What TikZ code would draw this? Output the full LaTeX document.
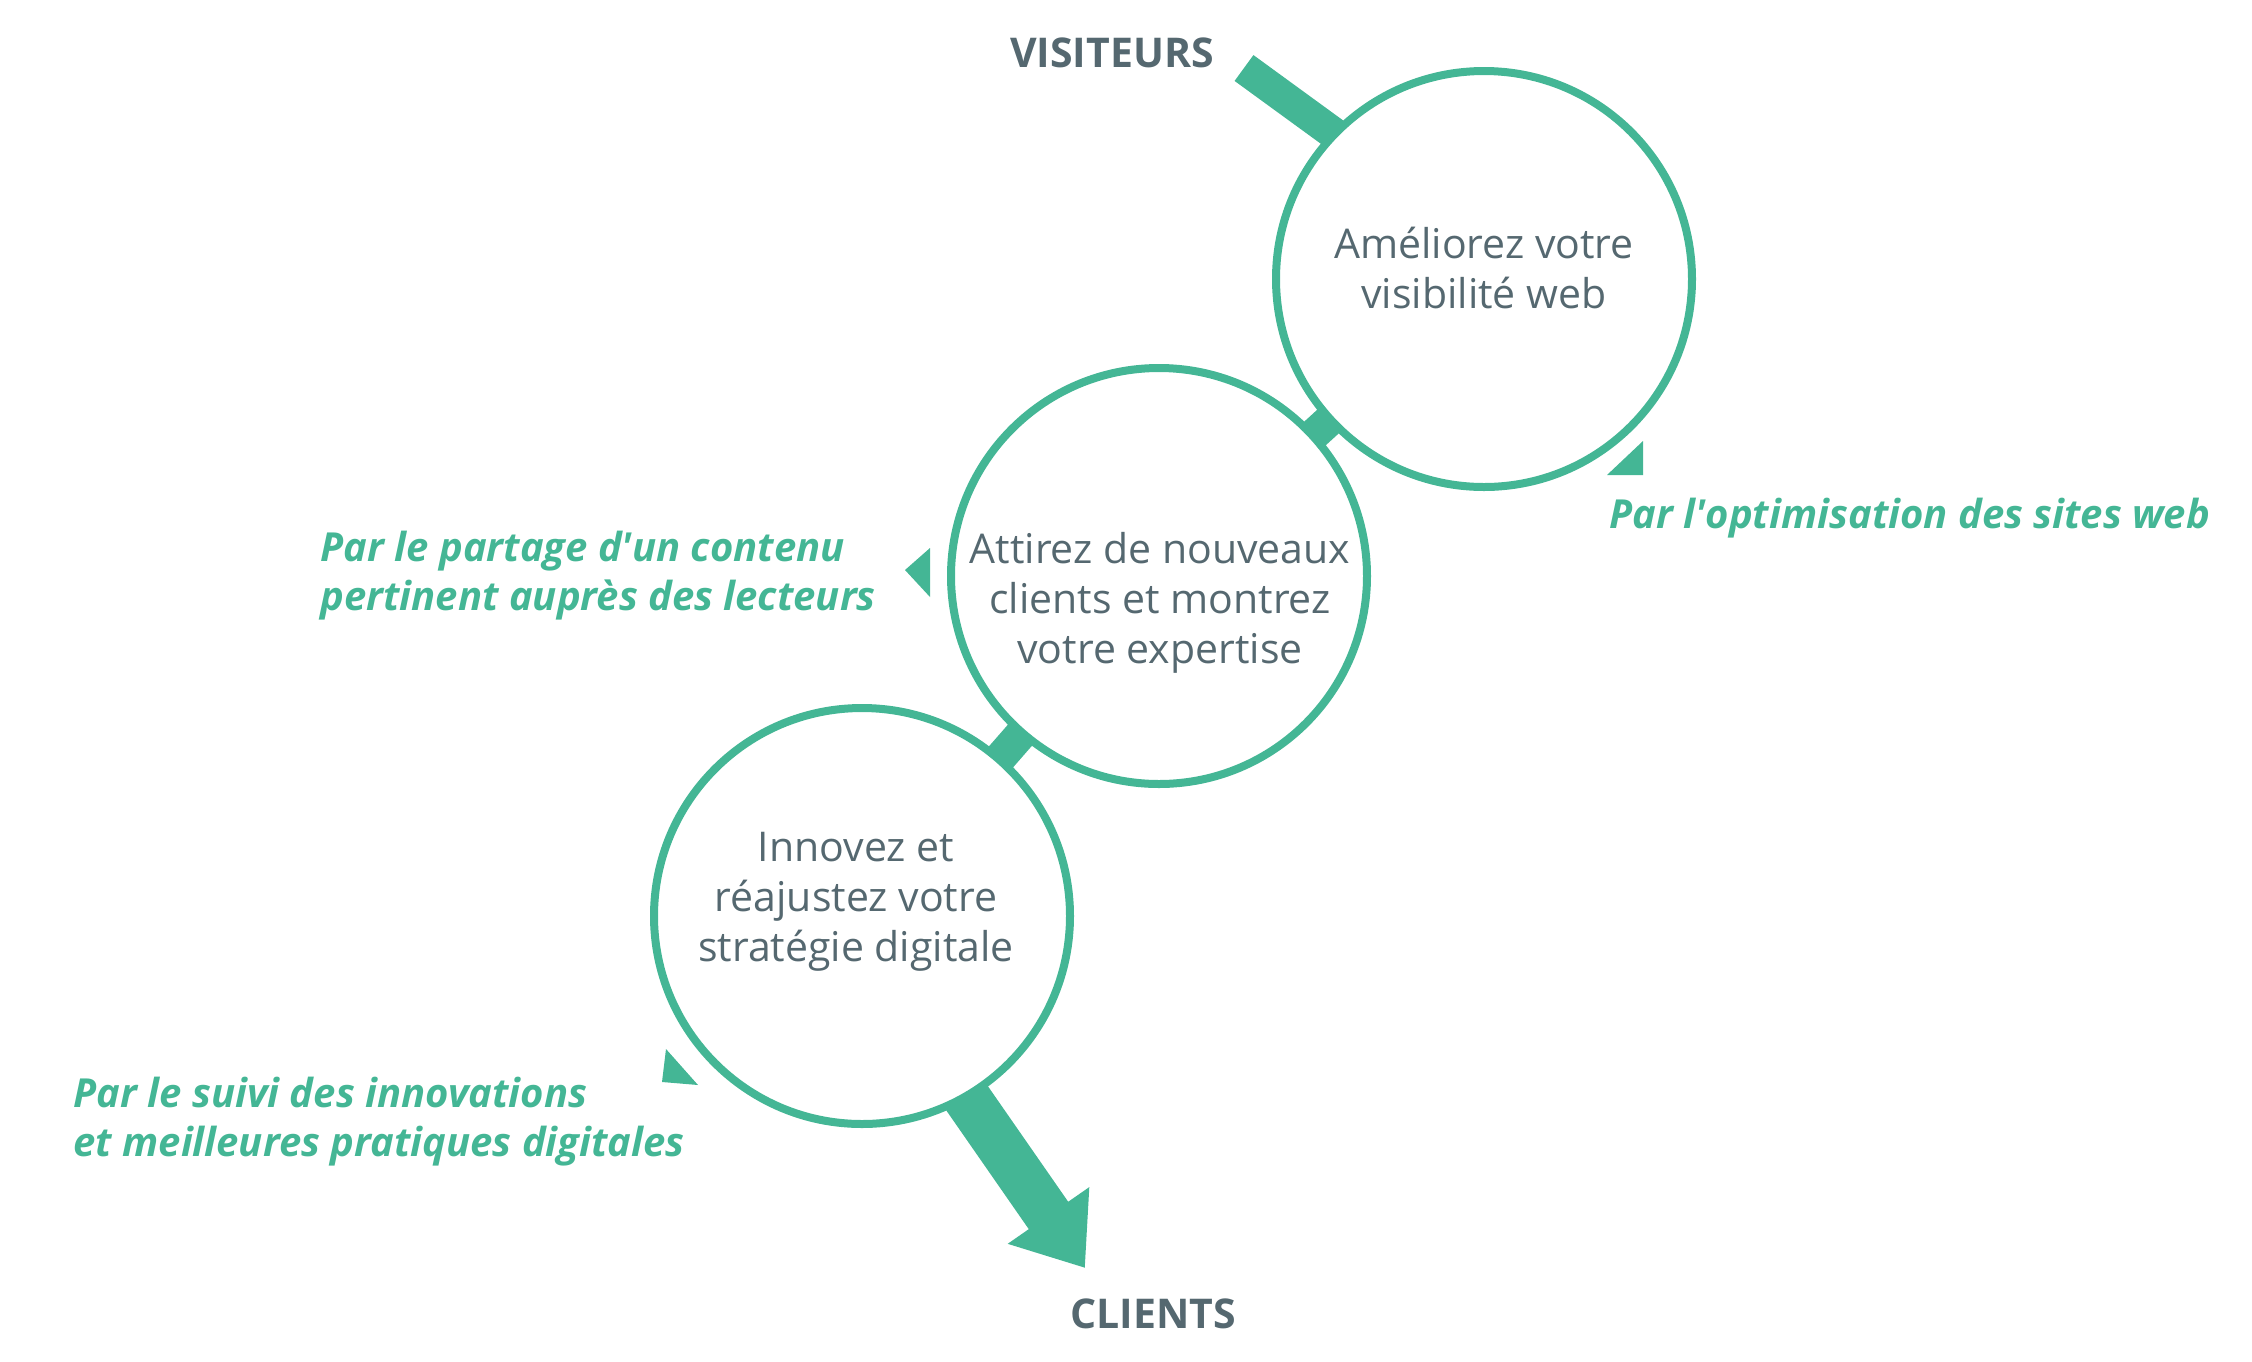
\documentclass[tikz,border=0pt]{standalone}
\usepackage{fontspec}
\setmainfont{Open Sans}
\usepackage{tikz}
\usetikzlibrary{arrows.meta}
\usetikzlibrary{positioning}
\definecolor{vert}{RGB}{68,182,149}
\definecolor{ardoise}{RGB}{85,104,112}

\begin{document}
\begin{tikzpicture}[x=1pt,y=-1pt,
  etape/.style={circle,draw=vert,line width=8pt,minimum size=416pt,inner sep=0pt},
  texte/.style={text=ardoise,align=center,font=\fontsize{41}{50}\selectfont},
  titre/.style={text=ardoise,font=\fontsize{41}{48}\selectfont\bfseries},
  moyen/.style={text=vert,align=left,anchor=west,font=\fontsize{40}{49}\selectfont\bfseries\itshape},
  lien/.style={draw=vert,line width=32pt,shorten <=-4pt,shorten >=-4pt}]
\useasboundingbox (0,0) rectangle (2252,1361);
\node[etape] (c1) at (1484,279) {};
\node[etape] (c2) at (1159,576) {};
\node[etape] (c3) at (862,916) {};
\coordinate (entree) at (1244,68);
\coordinate (sortie) at (1085,1268);
\draw[lien,shorten <=0pt] (entree) -- (c1.136);
\draw[lien] (c1) -- (c2);
\draw[lien] (c2) -- (c3);
\draw[lien,line width=48pt,shorten >=0pt,-{Triangle[length=64pt,width=95pt]}] (c3.-60.5) -- (sortie);
\node[texte] (t1) at (1484,268) {Améliorez votre\\visibilité web};
\node[texte] (t2) at (1160,603) {Attirez de nouveaux\\clients et montrez\\votre expertise};
\node[texte] (t3) at (856,902) {Innovez et\\réajustez votre\\stratégie digitale};
\node[titre] (vis) at (1112,53) {VISITEURS};
\node[titre] (cli) at (1153,1314) {CLIENTS};
\node[moyen] (m1) at (1606,518) {Par l\textquotesingle optimisation des sites web};
\node[moyen] (m2) at (317,576) {Par le partage d\textquotesingle un contenu\\pertinent auprès des lecteurs};
\node[moyen] (m3) at (70,1122) {Par le suivi des innovations\\et meilleures pratiques digitales};
\fill[vert] (1643,441) -- (1643,475) -- (1607,475) -- cycle;
\fill[vert] (930,548) -- (930,597) -- (905,570) -- cycle;
\fill[vert] (666,1049) -- (662,1082) -- (698,1085) -- cycle;
\end{tikzpicture}
\end{document}
